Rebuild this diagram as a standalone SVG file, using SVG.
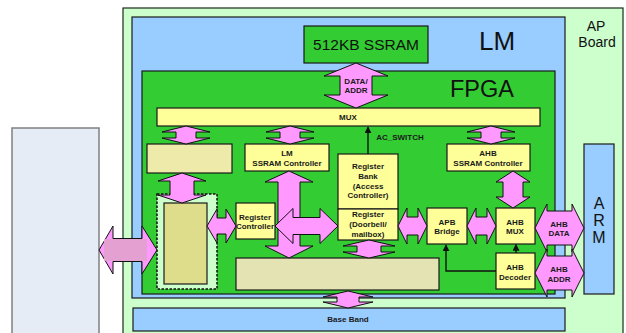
<svg xmlns="http://www.w3.org/2000/svg" width="626" height="333" viewBox="0 0 626 333">
  <defs>
    <style>
      .box { stroke: #1a1a1a; stroke-width: 1.2; }
      .yel { fill: #FFFF99; }
      .grn { fill: #33CC33; }
      .blu { fill: #99CCFF; }
      .lgr { fill: #CCFFCC; }
      .arr { fill: #FF99FF; stroke: #111; stroke-width: 1; stroke-linejoin: miter; }
      .t { font-family: "Liberation Sans", Arial, sans-serif; font-weight: bold; font-size: 8px; fill: #1a1a1a; text-anchor: middle; }
      .big { font-family: "Liberation Sans", Arial, sans-serif; fill: #111; text-anchor: middle; }
      .wire { fill: none; stroke: #111; stroke-width: 1.4; }
    </style>
    <marker id="ah" viewBox="0 0 10 10" refX="9" refY="5" markerWidth="5" markerHeight="5" orient="auto">
      <path d="M0,0 L10,5 L0,10 Z" fill="#111"/>
    </marker>
  </defs>

  <rect width="626" height="333" fill="#ffffff"/>

  <!-- external host panel on the left -->
  <g id="host">
    <rect x="12" y="128" width="87" height="210" fill="#E6ECF6" stroke="#808080" stroke-width="1.5"/>
  </g>

  <!-- AP board -->
  <g id="ap-board">
    <rect x="123" y="8" width="500" height="330" class="lgr" stroke="#1a2a1a" stroke-width="1.2"/>
    <text class="big" x="596" y="31" font-size="14">AP</text>
    <text class="big" x="597" y="47" font-size="14">Board</text>
  </g>

  <!-- Logic module -->
  <g id="lm">
    <rect x="132" y="17" width="433" height="281" class="blu box"/>
    <text class="big" x="497" y="50" font-size="26">LM</text>
  </g>

  <g id="ssram">
    <rect x="304" y="26" width="124" height="37" class="grn box"/>
    <text class="big" x="366" y="50" font-size="15.5">512KB SSRAM</text>
  </g>

  <g id="fpga">
    <rect x="142" y="71" width="413" height="223" class="grn box"/>
    <text class="big" x="482" y="97" font-size="23.5">FPGA</text>
  </g>

  <g id="mux">
    <rect x="157" y="108" width="383" height="18" class="yel box"/>
    <text class="t" x="348" y="120" font-size="7.5">MUX</text>
  </g>

  <g id="block-a">
    <rect x="147" y="144" width="85" height="29" fill="#EEEAAA" class="box"/>
  </g>

  <g id="lm-ssram-ctrl">
    <rect x="245" y="144" width="84" height="27" class="yel box"/>
    <text class="t" x="287" y="156">LM</text>
    <text class="t" x="287" y="166" font-size="8.5">SSRAM Controller</text>
  </g>

  <g id="ahb-ssram-ctrl">
    <rect x="447" y="144" width="83" height="27" class="yel box"/>
    <text class="t" x="488" y="156">AHB</text>
    <text class="t" x="488" y="166" font-size="8.5">SSRAM Controller</text>
  </g>

  <g id="register-bank">
    <rect x="338" y="154" width="60" height="55" class="yel box"/>
    <text class="t" x="368" y="169">Register</text>
    <text class="t" x="368" y="179">Bank</text>
    <text class="t" x="368" y="189">(Access</text>
    <text class="t" x="368" y="198">Controller)</text>
  </g>

  <g id="register-mailbox">
    <rect x="338" y="209" width="60" height="31" class="yel box"/>
    <text class="t" x="368" y="217">Register</text>
    <text class="t" x="368" y="227">(Doorbell/</text>
    <text class="t" x="368" y="237">mailbox)</text>
  </g>

  <g id="apb-bridge">
    <rect x="427" y="208" width="40" height="36" class="yel box"/>
    <text class="t" x="447" y="225" font-size="8.5">APB</text>
    <text class="t" x="447" y="234" font-size="8.5">Bridge</text>
  </g>

  <g id="ahb-mux">
    <rect x="496" y="208" width="39" height="36" class="yel box"/>
    <text class="t" x="515" y="225" font-size="8.5">AHB</text>
    <text class="t" x="515" y="234" font-size="8.5">MUX</text>
  </g>

  <g id="ahb-decoder">
    <rect x="496" y="253" width="39" height="36" class="yel box"/>
    <text class="t" x="515" y="270" font-size="8.5">AHB</text>
    <text class="t" x="515" y="280" font-size="8.5">Decoder</text>
  </g>

  <g id="block-b">
    <rect x="236" y="258" width="203" height="32" fill="#E3E3B3" class="box"/>
  </g>

  <g id="host-if">
    <rect x="157" y="194" width="60" height="95" class="lgr" stroke="#111" stroke-width="1.5" stroke-dasharray="2.5,1.5"/>
    <rect x="164" y="203" width="43" height="81" fill="#DDDD8C" class="box"/>
  </g>

  <g id="register-ctrl">
    <rect x="236" y="203" width="39" height="36" class="yel box"/>
    <text class="t" x="255" y="220" font-size="8.5">Register</text>
    <text class="t" x="255" y="229" font-size="8.5">Controller</text>
  </g>

  <g id="arm">
    <rect x="584" y="144" width="30" height="150" class="blu box"/>
    <text class="big" x="599" y="209" font-size="16">A</text>
    <text class="big" x="599" y="226" font-size="16">R</text>
    <text class="big" x="599" y="243" font-size="16">M</text>
  </g>

  <g id="base-band">
    <rect x="133" y="308" width="432" height="23" class="blu box"/>
    <text class="t" x="348" y="322">Base Band</text>
  </g>

  <!-- bus arrows and signal wires -->
  <g id="connectors">
    <!-- SSRAM data/addr -->
    <path class="arr" d="M356,63 L388,76 L372,76 L372,95 L388,95 L356,108 L324,95 L340,95 L340,76 L324,76 Z"/>
    <text class="t" x="356" y="84" font-size="7.5">DATA/</text>
    <text class="t" x="356" y="93" font-size="7.5">ADDR</text>

    <!-- MUX to the blocks below -->
    <path class="arr" d="M186,126 L210,132 L196,132 L196,138 L210,138 L186,144 L162,138 L176,138 L176,132 L162,132 Z"/>
    <path class="arr" d="M290,126 L314,132 L300,132 L300,138 L314,138 L290,144 L266,138 L280,138 L280,132 L266,132 Z"/>
    <path class="arr" d="M491,126 L515,132 L501,132 L501,138 L515,138 L491,144 L467,138 L481,138 L481,132 L467,132 Z"/>

    <!-- block A to host interface -->
    <path class="arr" d="M182,173 L206,181 L194,181 L194,195 L206,195 L182,203 L158,195 L170,195 L170,181 L158,181 Z"/>

    <!-- LM SSRAM controller to block B -->
    <path class="arr" d="M289,171 L313,182 L300,182 L300,246 L313,246 L289,258 L265,246 L278,246 L278,182 L265,182 Z"/>
    <!-- register controller to mailbox -->
    <path class="arr" d="M275,226 L293,208.5 L293,217.5 L320,217.5 L320,208.5 L338,226 L320,243.5 L320,234.5 L293,234.5 L293,243.5 Z"/>

    <!-- host interface to register controller -->
    <path class="arr" d="M207,226 L217,209 L217,218 L226,218 L226,209 L236,226 L226,243 L226,234 L217,234 L217,243 Z"/>

    <!-- mailbox to APB bridge, bridge to AHB MUX -->
    <path class="arr" d="M398,226 L407,208 L407,217 L418,217 L418,208 L427,226 L418,244 L418,235 L407,235 L407,244 Z"/>
    <path class="arr" d="M467,226 L476,208 L476,217 L487,217 L487,208 L496,226 L487,244 L487,235 L476,235 L476,244 Z"/>

    <!-- AHB SSRAM controller to AHB MUX -->
    <path class="arr" d="M513,171 L530,182 L523,182 L523,197 L530,197 L513,208 L496,197 L503,197 L503,182 L496,182 Z"/>

    <!-- mailbox to block B -->
    <path class="arr" d="M369,240 L395,246 L381,246 L381,252 L395,252 L369,258 L343,252 L357,252 L357,246 L343,246 Z"/>

    <!-- FPGA to base band -->
    <path class="arr" d="M348,291 L373,297 L359,297 L359,302 L373,302 L348,308 L323,302 L337,302 L337,297 L323,297 Z"/>

    <!-- AHB data / addr to ARM -->
    <path class="arr" d="M535,228 L547,204 L547,211 L572,211 L572,204 L584,228 L572,252 L572,245 L547,245 L547,252 Z"/>
    <text class="t" x="559" y="227">AHB</text>
    <text class="t" x="559" y="236">DATA</text>
    <path class="arr" d="M535,273 L547,249 L547,256 L572,256 L572,249 L584,273 L572,297 L572,290 L547,290 L547,297 Z"/>
    <text class="t" x="559" y="272">AHB</text>
    <text class="t" x="559" y="282">ADDR</text>

    <!-- host link -->
    <path class="arr" d="M99,250 L113,226 L113,238.5 L142,238.5 L142,226 L157,250 L142,274 L142,261.5 L113,261.5 L113,274 Z"/>
    <rect x="104" y="239" width="43" height="22" fill="#E4A0D0"/>

    <!-- AC_SWITCH control line -->
    <line class="wire" x1="368" y1="154" x2="368" y2="127" marker-end="url(#ah)"/>
    <text class="t" x="400" y="140" font-size="7.5">AC_SWITCH</text>

    <!-- decoder selects -->
    <line class="wire" x1="516" y1="253" x2="516" y2="244.5" marker-end="url(#ah)"/>
    <path class="wire" d="M496,271 L446,271 L446,245" marker-end="url(#ah)"/>
  </g>
</svg>
